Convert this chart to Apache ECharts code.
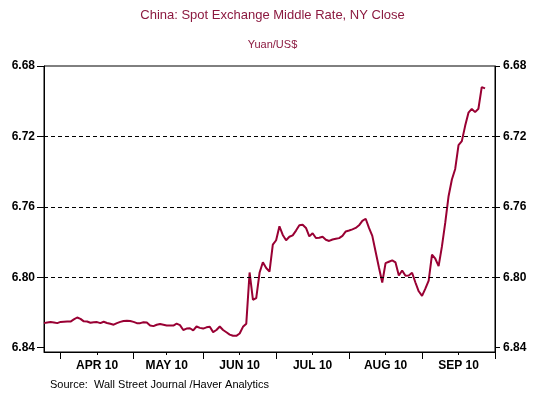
<!DOCTYPE html>
<html>
<head>
<meta charset="utf-8">
<script src="https://cdn.jsdelivr.net/npm/echarts@6/dist/echarts.min.js"></script>
<style>
html,body{margin:0;padding:0;background:#fff;}
#chart{width:545px;height:396px;}
</style>
</head>
<body>
<div id="chart"></div>
<script>
// ---- data ----
const monthLabels = ['APR 10', 'MAY 10', 'JUN 10', 'JUL 10', 'AUG 10', 'SEP 10'];
const yTicks = [6.68, 6.72, 6.76, 6.80, 6.84];
const gridValues = [6.72, 6.76, 6.80];
// Daily (business-day) rate from 2010-03-25 onward, Yuan per US$
const rate = [
  6.8261, 6.8257, 6.8255, 6.8257, 6.8261, 6.8254, 6.8253, 6.8252, 6.8252, 6.8240,
  6.8229, 6.8237, 6.8251, 6.8252, 6.8259, 6.8256, 6.8255, 6.8261, 6.8253, 6.8260,
  6.8265, 6.8270, 6.8261, 6.8254, 6.8249, 6.8248, 6.8249, 6.8254, 6.8261, 6.8261,
  6.8256, 6.8258, 6.8275, 6.8278, 6.8270, 6.8266, 6.8270, 6.8274, 6.8275, 6.8275,
  6.8264, 6.8272, 6.8300, 6.8292, 6.8290, 6.8302, 6.8280, 6.8288, 6.8292, 6.8285,
  6.8282, 6.8312, 6.8300, 6.8280, 6.8300, 6.8313, 6.8326, 6.8333, 6.8333, 6.8320,
  6.8282, 6.8264, 6.7973, 6.8128, 6.8119, 6.7975, 6.7915, 6.7948, 6.7968, 6.7815,
  6.7790, 6.7711, 6.7760, 6.7790, 6.7770, 6.7762, 6.7735, 6.7705, 6.7702, 6.7720,
  6.7768, 6.7750, 6.7777, 6.7776, 6.7770, 6.7787, 6.7794, 6.7786, 6.7782, 6.7778,
  6.7765, 6.7740, 6.7735, 6.7728, 6.7720, 6.7705, 6.7680, 6.7668, 6.7720, 6.7765,
  6.7855, 6.7945, 6.8030, 6.7920, 6.7912, 6.7904, 6.7916, 6.7990, 6.7962, 6.7992,
  6.7990, 6.7975, 6.8030, 6.8080, 6.8106, 6.8065, 6.8020, 6.7872, 6.7895, 6.7937,
  6.7825, 6.7690, 6.7540, 6.7445, 6.7385, 6.7250, 6.7227, 6.7140, 6.7065, 6.7044,
  6.7062, 6.7043, 6.6920, 6.6927
];

// ---- business-day categories (2010-03-25 .. 2010-10-01) ----
const cats = [];
const d = new Date(Date.UTC(2010, 2, 25));
const endT = Date.UTC(2010, 9, 1);
while (d.getTime() <= endT) {
  const wd = d.getUTCDay();
  if (wd > 0 && wd < 6) cats.push(d.toISOString().slice(0, 10));
  d.setUTCDate(d.getUTCDate() + 1);
}
const starts = [];
for (let i = 1; i < cats.length; i++) {
  if (cats[i].slice(5, 7) !== cats[i - 1].slice(5, 7)) starts.push(i);
}
const majorSet = new Set(starts);
const midSet = new Set();
for (let i = 0; i + 1 < starts.length; i++) midSet.add(Math.floor((starts[i] + starts[i + 1]) / 2));

const maroon = '#8c1a40';
const font = 'Arial, "Liberation Sans", sans-serif';

const chart = echarts.init(document.getElementById('chart'), null, { renderer: 'canvas' });
chart.setOption({
  animation: false,
  backgroundColor: '#fff',
  title: [
    { text: 'China: Spot Exchange Middle Rate, NY Close', left: 'center', top: 4,
      textStyle: { fontSize: 13, fontWeight: 'normal', color: maroon, fontFamily: font } },
    { text: 'Yuan/US$', left: 'center', top: 34,
      textStyle: { fontSize: 11, fontWeight: 'normal', color: maroon, fontFamily: font } },
    { text: 'Source:  Wall Street Journal /Haver Analytics', left: 45, top: 374,
      textStyle: { fontSize: 11, fontWeight: 'normal', color: '#000', fontFamily: font } }
  ],
  grid: { left: 44, right: 50, top: 66, bottom: 44, show: true, borderColor: '#000', borderWidth: 1, containLabel: false },
  xAxis: [
    {
      type: 'category', data: cats, boundaryGap: false, position: 'bottom',
      axisLine: { show: true, lineStyle: { color: '#000', width: 1 } },
      axisTick: { show: true, length: 7, interval: (i) => majorSet.has(i), lineStyle: { color: '#000' } },
      axisLabel: { show: false },
      splitLine: { show: false }
    },
    {
      type: 'category', data: cats, boundaryGap: false, position: 'bottom',
      axisLine: { show: false },
      axisTick: { show: true, length: 3, interval: (i) => midSet.has(i), lineStyle: { color: '#000' } },
      axisLabel: {
        show: true, interval: (i) => midSet.has(i), margin: 8,
        fontSize: 12, fontWeight: 'bold', color: '#000', fontFamily: font,
        formatter: (v) => monthLabels[parseInt(v.slice(5, 7), 10) - 4] || ''
      },
      splitLine: { show: false }
    }
  ],
  yAxis: [
    {
      type: 'value', inverse: true, min: 6.68, max: 6.8425, position: 'left',
      axisLine: { show: true, lineStyle: { color: '#000' } },
      axisTick: { show: true, length: 7, customValues: yTicks, lineStyle: { color: '#000' } },
      axisLabel: { customValues: yTicks, margin: 9, fontSize: 12, fontWeight: 'bold', color: '#000', fontFamily: font,
        formatter: (v) => Number(v).toFixed(2) },
      splitLine: { show: false }
    },
    {
      type: 'value', inverse: true, min: 6.68, max: 6.8425, position: 'right',
      axisLine: { show: true, lineStyle: { color: '#000' } },
      axisTick: { show: true, length: 5, customValues: yTicks, lineStyle: { color: '#000' } },
      axisLabel: { customValues: yTicks, margin: 8, fontSize: 12, fontWeight: 'bold', color: '#000', fontFamily: font,
        formatter: (v) => Number(v).toFixed(2) },
      splitLine: { show: false }
    }
  ],
  series: [
    {
      type: 'line', xAxisIndex: 0, yAxisIndex: 0, data: rate,
      showSymbol: false, symbol: 'none',
      lineStyle: { color: '#990033', width: 2 },
      markLine: {
        silent: true, symbol: ['none', 'none'], label: { show: false },
        lineStyle: { color: '#000', width: 1, type: [4, 3] },
        data: gridValues.map(v => ({ yAxis: v }))
      },
      z: 3
    }
  ]
});
</script>
</body>
</html>
